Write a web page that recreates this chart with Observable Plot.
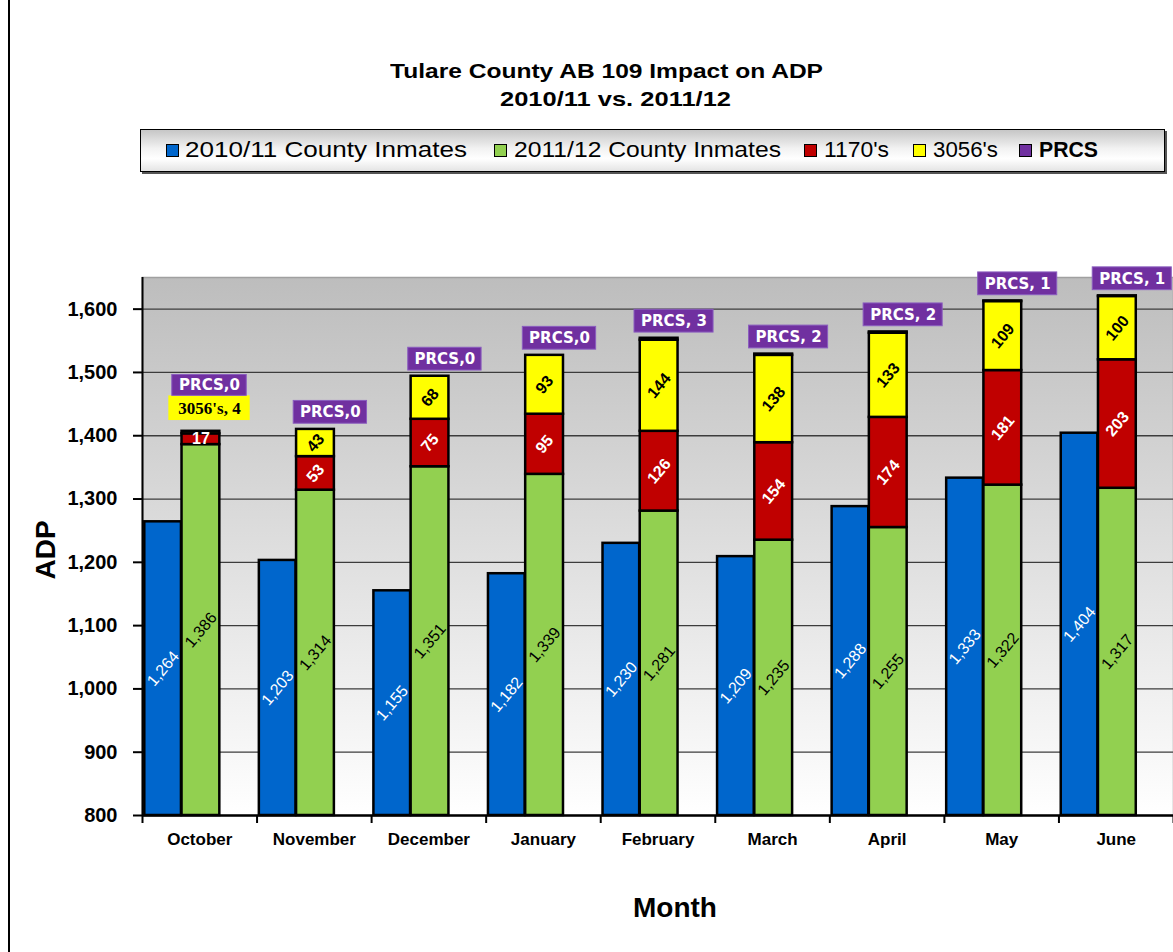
<!DOCTYPE html>
<html><head><meta charset="utf-8">
<script src="https://cdn.jsdelivr.net/npm/d3@7"></script>
<script src="https://cdn.jsdelivr.net/npm/@observablehq/plot@0.6"></script>
<style>
body{margin:0;background:#fff;width:1173px;height:952px;position:relative;overflow:hidden;font-family:"Liberation Sans",Arial,sans-serif;color:#000;}
#border{position:absolute;left:8px;top:0;width:2px;height:952px;background:#000;}
.tline{position:absolute;white-space:nowrap;font-weight:bold;font-size:21px;line-height:21px;transform-origin:0 50%;}
#legend{position:absolute;left:140px;top:129px;width:1023px;height:41px;border:1.5px solid #000;box-shadow:2px 2px 0 #555;
 background:linear-gradient(to bottom,#c6c6c6 0%,#f2f2f2 45%,#ffffff 70%,#e4e4e4 100%);}
.sw{position:absolute;top:14px;width:11px;height:11px;border:1.5px solid #000;}
.lt{position:absolute;top:9px;font-size:22px;line-height:22px;white-space:nowrap;transform-origin:0 50%;}
#chart{position:absolute;left:0;top:240px;}
#ylabel{position:absolute;left:46px;top:550px;font-weight:bold;font-size:28px;transform:translate(-50%,-50%) rotate(-90deg);white-space:nowrap;}
#xlabel{position:absolute;left:675px;top:908px;font-weight:bold;font-size:28px;transform:translate(-50%,-50%);white-space:nowrap;}
</style></head><body>
<div id="border"></div>
<div id="t1" class="tline">Tulare County AB 109 Impact on ADP</div>
<div id="t2" class="tline">2010/11 vs. 2011/12</div>
<div id="legend"></div>
<div id="chart"></div>
<div id="ylabel">ADP</div>
<div id="xlabel">Month</div>
<script>
// ---- data ----
const months = ["October","November","December","January","February","March","April","May","June"];
const county1011 = [1264,1203,1155,1182,1230,1209,1288,1333,1404];
const county1112 = [1386,1314,1351,1339,1281,1235,1255,1322,1317];
const n1170 = [17,53,75,95,126,154,174,181,203];
const n3056 = [4,43,68,93,144,138,133,109,100];
const prcs = [0,0,0,0,3,2,2,1,1];
const yTicks = [800,900,1000,1100,1200,1300,1400,1500,1600];
const seriesNames = ["2010/11 County Inmates","2011/12 County Inmates","1170's","3056's","PRCS"];
const seriesColors = ["#0066cc","#92d050","#c00000","#ffff00","#7030a0"];

// ---- title ----
function fit(el, target){ const w = el.getBoundingClientRect().width; el.style.transform = `scaleX(${target/w})`; }
const t1 = document.getElementById("t1"), t2 = document.getElementById("t2");
t1.style.left = "390px"; t1.style.top = "60px"; fit(t1, 433);
t2.style.left = "500px"; t2.style.top = "88px"; fit(t2, 231);

// ---- legend ----
const legend = document.getElementById("legend");
const swX = [25,353,663,772,878];
const txX = [44,373,683,792,898];
const txW = [282,267,65,65,59];
seriesNames.forEach((name,k)=>{
  const s = document.createElement("div"); s.className="sw"; s.style.left = swX[k]+"px"; s.style.background = seriesColors[k]; legend.appendChild(s);
  const t = document.createElement("div"); t.className="lt"; t.textContent = name; t.style.left = txX[k]+"px";
  if (name==="PRCS") t.style.fontWeight="bold";
  legend.appendChild(t); fit(t, txW[k]);
});

// ---- chart ----
const base = yTicks[0];
const rows = months.map((m,i)=>{
  const g=county1112[i], r=n1170[i], y=n3056[i], p=prcs[i];
  return {i, m, b:county1011[i], g, r, y, p, rTop:g+r, yTop:g+r+y, top:g+r+y+p,
          label: (i<4 ? `PRCS,${p}` : `PRCS, ${p}`)};
});
const bx1=0.02,bx2=0.34,gx1=0.345,gx2=0.675, gc=(gx1+gx2)/2, bc=(bx1+bx2)/2;
const fmt = d3.format(",");
const sw = 2.5;
const small = d=>d.y<30;
rows.forEach(d=>{
  if (small(d)) { d.cb1=d.top+17; d.cb2=d.cb1+39; d.pb1=d.cb2; d.pb2=d.pb1+33; d.pc=d.i+gc+0.075; d.pw=0.65; }
  else { d.pb1=d.top+9; d.pb2=d.pb1+36; d.pc=d.i+gc+0.13; d.pw=d.label.length>6?0.69:0.64; }
});

const svg = Plot.plot({
  width:1173, height:712, marginTop:37, marginBottom:137, marginLeft:142, marginRight:0,
  x:{domain:[0,9], label:null}, y:{domain:[800,1650], label:null},
  style:{fontFamily:"'Liberation Sans',Arial,sans-serif", fontSize:"15px", overflow:"visible", background:"transparent"},
  marks:[
    Plot.frame({fill:"url(#bgGrad)", stroke:"#a0a0a0", strokeWidth:1.5}),
    Plot.ruleY(yTicks.slice(1), {stroke:"#3c3c3c", strokeWidth:1.3}),
    Plot.rect(rows, {x1:d=>d.i+bx1, x2:d=>d.i+bx2, y1:base, y2:"b", fill:seriesColors[0], stroke:"#000", strokeWidth:sw}),
    Plot.rect(rows, {x1:d=>d.i+gx1, x2:d=>d.i+gx2, y1:base, y2:"g", fill:seriesColors[1], stroke:"#000", strokeWidth:sw}),
    Plot.rect(rows, {x1:d=>d.i+gx1, x2:d=>d.i+gx2, y1:"g", y2:"rTop", fill:seriesColors[2], stroke:"#000", strokeWidth:sw}),
    Plot.rect(rows, {x1:d=>d.i+gx1, x2:d=>d.i+gx2, y1:"rTop", y2:"yTop", fill:seriesColors[3], stroke:"#000", strokeWidth:sw}),
    Plot.rect(rows.filter(d=>d.p>0), {x1:d=>d.i+gx1, x2:d=>d.i+gx2, y1:"yTop", y2:"top", fill:seriesColors[4], stroke:"#000", strokeWidth:sw}),
    // value labels
    Plot.text(rows, {x:d=>d.i+bc, y:d=>(base+d.b)/2, text:d=>fmt(d.b), rotate:-50, fill:"white", fontSize:16}),
    Plot.text(rows, {x:d=>d.i+gc, y:d=>(base+d.g)/2, text:d=>fmt(d.g), rotate:-50, fill:"black", fontSize:16}),
    Plot.text(rows.filter(d=>d.r>=30), {x:d=>d.i+gc, y:d=>d.g+d.r/2, text:"r", rotate:-50, fill:"white", fontSize:16, fontWeight:"bold"}),
    Plot.text(rows.filter(d=>d.r<30), {x:d=>d.i+gc, y:d=>d.g+d.r/2, text:"r", fill:"white", fontSize:16, fontWeight:"bold"}),
    Plot.text(rows.filter(d=>!small(d)), {x:d=>d.i+gc, y:d=>d.rTop+d.y/2, text:"y", rotate:-50, fill:"black", fontSize:16, fontWeight:"bold"}),
    // 3056's callout for tiny segments
    Plot.rect(rows.filter(small), {x1:d=>d.pc-0.355, x2:d=>d.pc+0.355, y1:"cb1", y2:"cb2", fill:seriesColors[3]}),
    Plot.text(rows.filter(small), {x:"pc", y:d=>(d.cb1+d.cb2)/2, text:d=>`3056's, ${d.y}`, fill:"black", fontSize:17, fontWeight:"bold", fontFamily:"'Liberation Serif','Times New Roman',serif"}),
    // PRCS boxes
    Plot.rect(rows, {x1:d=>d.pc-d.pw/2, x2:d=>d.pc+d.pw/2, y1:"pb1", y2:"pb2", fill:seriesColors[4], stroke:"#8a5cbf", strokeWidth:1}),
    Plot.text(rows, {x:"pc", y:d=>(d.pb1+d.pb2)/2, text:"label", fill:"white", fontSize:15, fontWeight:"bold", fontFamily:"'DejaVu Sans',Verdana,sans-serif"}),
    // axes
    Plot.axisY({ticks:yTicks, tickFormat:fmt, tickSize:9, tickPadding:16, fontSize:20, fontWeight:"bold", strokeWidth:2, label:null}),
    Plot.axisX({ticks:d3.range(10), tickSize:8, tickFormat:()=>"", strokeWidth:2, label:null}),
    Plot.axisX({ticks:months.map((m,i)=>i+0.5), tickSize:0, tickPadding:17, tickFormat:d=>months[Math.floor(d)], fontSize:17, fontWeight:"bold", label:null}),
    Plot.ruleX([0], {stroke:"#000", strokeWidth:2}),
    Plot.ruleY([base], {stroke:"#000", strokeWidth:2.5})
  ]
});
const defs = d3.select(svg).insert("defs", ":first-child");
const grad = defs.append("linearGradient").attr("id","bgGrad").attr("x1",0).attr("y1",0).attr("x2",0).attr("y2",1);
grad.append("stop").attr("offset","0%").attr("stop-color","#bdbdbd");
grad.append("stop").attr("offset","100%").attr("stop-color","#ffffff");
document.getElementById("chart").appendChild(svg);
</script>
</body></html>
